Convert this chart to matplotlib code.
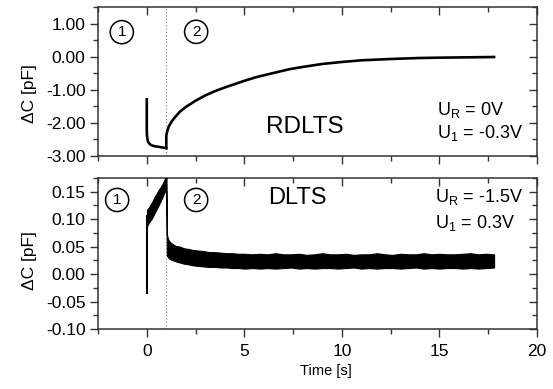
import matplotlib
matplotlib.use("Agg")
import matplotlib.pyplot as plt
from matplotlib.ticker import MultipleLocator, NullFormatter, FormatStrFormatter

plt.rcParams['font.family'] = ['Liberation Sans', 'DejaVu Sans']
plt.rcParams['mathtext.fontset'] = 'custom'
plt.rcParams['mathtext.rm'] = 'Liberation Sans'
plt.rcParams['mathtext.it'] = 'Liberation Sans:italic'

# ---------------- data ----------------
# RDLTS: phase 1 (filling pulse) and phase 2 (transient)
rd_t1 = [0.0, 0.0, 0.01, 0.03, 0.06, 0.12, 0.2, 0.3, 0.45, 0.6, 0.75, 0.9, 0.99]
rd_v1 = [-1.29, -2.20, -2.38, -2.48, -2.56, -2.62, -2.66, -2.69, -2.71, -2.72, -2.74, -2.75, -2.76]
rd_t2 = [1.0, 1.0, 1.05, 1.12, 1.25, 1.4, 1.7, 2.0, 2.5, 3.0, 3.5, 4.0, 4.5, 5.0,
         5.6, 6.3, 7.3, 8.0, 9.0, 10.0, 11.0, 12.5, 14.0, 15.0, 16.5, 17.8]
rd_v2 = [-2.76, -2.38, -2.25, -2.12, -1.98, -1.86, -1.66, -1.52, -1.33, -1.17, -1.04,
         -0.93, -0.83, -0.73, -0.62, -0.52, -0.38, -0.31, -0.22, -0.16, -0.11, -0.07,
         -0.04, -0.03, -0.02, -0.01]

# DLTS: noisy band, given as lower/upper envelopes
dl_spike_t = [0.0, 0.0]
dl_spike_v = [-0.035, 0.105]
dl_t1 = [0.0, 0.02, 0.05, 0.1, 0.2, 0.3, 0.4, 0.5, 0.6, 0.7, 0.8, 0.9, 0.99]
dl_up1 = [0.105, 0.117, 0.119, 0.121, 0.127, 0.133, 0.141, 0.146, 0.153, 0.158, 0.164, 0.171, 0.178]
dl_lo1 = [0.085, 0.088, 0.090, 0.093, 0.098, 0.104, 0.111, 0.118, 0.125, 0.132, 0.140, 0.148, 0.155]
dl_t2 = [0.99, 1.0, 1.03, 1.1, 1.2, 1.35, 1.5, 1.7, 1.9, 2.1, 2.35, 2.6, 2.9, 3.2, 3.5,
         3.8, 4.1, 4.4, 4.7, 5.0, 5.4, 5.8, 6.2, 6.6, 7.0, 7.4, 7.8, 8.2, 8.6, 9.0,
         9.4, 9.8, 10.2, 10.6, 11.0, 11.4, 11.8, 12.2, 12.6, 13.0, 13.4, 13.8, 14.2,
         14.6, 15.0, 15.4, 15.8, 16.2, 16.6, 17.0, 17.4, 17.8]
dl_up2 = [0.178, 0.175, 0.072, 0.063, 0.058, 0.054, 0.051, 0.050, 0.047, 0.046, 0.044,
          0.043, 0.042, 0.040, 0.040, 0.039, 0.038, 0.038, 0.037, 0.037, 0.036, 0.037,
          0.036, 0.038, 0.036, 0.036, 0.037, 0.035, 0.036, 0.038, 0.036, 0.036, 0.037,
          0.035, 0.036, 0.036, 0.038, 0.036, 0.035, 0.037, 0.036, 0.036, 0.038, 0.036,
          0.037, 0.036, 0.036, 0.037, 0.038, 0.036, 0.037, 0.036]
dl_lo2 = [0.155, 0.150, 0.034, 0.030, 0.027, 0.025, 0.023, 0.021, 0.019, 0.018, 0.016,
          0.015, 0.014, 0.013, 0.013, 0.012, 0.012, 0.011, 0.011, 0.010, 0.011, 0.010,
          0.011, 0.010, 0.011, 0.012, 0.010, 0.011, 0.010, 0.011, 0.011, 0.010, 0.011,
          0.012, 0.010, 0.011, 0.010, 0.011, 0.011, 0.010, 0.011, 0.012, 0.010, 0.011,
          0.010, 0.011, 0.011, 0.010, 0.011, 0.010, 0.011, 0.012]

pulse_end = 1.0
xlim = (-2.5, 20)
x_ticks = [0, 5, 10, 15, 20]
top_ylim = (-3.0, 1.5)
top_yticks = [1.0, 0.0, -1.0, -2.0, -3.0]
bot_ylim = (-0.1, 0.175)
bot_yticks = [0.15, 0.10, 0.05, 0.00, -0.05, -0.10]

# ---------------- figure ----------------
W, H = 553, 389
fig = plt.figure(figsize=(W / 100, H / 100), dpi=100)

def frame(l, t, r, b):
    return [l / W, 1 - b / H, (r - l) / W, (b - t) / H]

ax1 = fig.add_axes(frame(98, 7, 537, 156))
ax2 = fig.add_axes(frame(98, 178, 537, 329))

spine_col = '#333333'

def style(ax, ymaj, ymin):
    ax.set_xlim(*xlim)
    for s in ax.spines.values():
        s.set_color(spine_col)
        s.set_linewidth(1.1)
    ax.xaxis.set_major_locator(MultipleLocator(5))
    ax.xaxis.set_minor_locator(MultipleLocator(2.5))
    ax.yaxis.set_major_locator(MultipleLocator(ymaj))
    ax.yaxis.set_minor_locator(MultipleLocator(ymin))
    ax.tick_params(which='major', direction='out', length=6, width=1.0,
                   color=spine_col, labelsize=12.5, pad=3)
    ax.tick_params(which='minor', direction='out', length=3.5, width=1.0, color=spine_col)
    ax.tick_params(axis='x', which='major', pad=5)
    sx = ax.secondary_xaxis('top')
    sx.xaxis.set_major_locator(MultipleLocator(5))
    sx.xaxis.set_minor_locator(MultipleLocator(2.5))
    sx.xaxis.set_major_formatter(NullFormatter())
    sx.tick_params(which='major', direction='in', length=6, width=1.0, color=spine_col)
    sx.tick_params(which='minor', direction='in', length=3.5, width=1.0, color=spine_col)
    sx.spines['top'].set_visible(False)
    sy = ax.secondary_yaxis('right')
    sy.yaxis.set_major_locator(MultipleLocator(ymaj))
    sy.yaxis.set_minor_locator(MultipleLocator(ymin))
    sy.yaxis.set_major_formatter(NullFormatter())
    sy.tick_params(which='major', direction='in', length=6, width=1.0, color=spine_col)
    sy.tick_params(which='minor', direction='in', length=3.5, width=1.0, color=spine_col)
    sy.spines['right'].set_visible(False)

# ---- top: RDLTS ----
style(ax1, 1.0, 0.5)
ax1.set_ylim(*top_ylim)
ax1.set_yticks(top_yticks)
ax1.yaxis.set_major_formatter(FormatStrFormatter('%.2f'))
ax1.set_xticks(x_ticks)
ax1.xaxis.set_major_formatter(NullFormatter())
ax1.axvline(pulse_end, color='#777777', ls=(0, (1, 2)), lw=0.8, zorder=1)
ax1.plot(rd_t1, rd_v1, color='black', lw=1.9, solid_joinstyle='round', zorder=3)
ax1.plot(rd_t2, rd_v2, color='black', lw=1.9, solid_joinstyle='round', zorder=3)
ax1.set_ylabel('ΔC [pF]', fontsize=12.5)
ax1.yaxis.set_label_coords(-0.138, 0.42)

circ = dict(boxstyle='circle,pad=0.3', fc='white', ec='black', lw=1.1)
ax1.text(-1.28, 0.74, '1', fontsize=11, ha='center', va='center', bbox=circ)
ax1.text(2.53, 0.75, '2', fontsize=11, ha='center', va='center', bbox=circ)
ax1.text(8.1, -2.11, 'RDLTS', fontsize=17.5, ha='center', va='center')
ax1.text(14.85, -1.75, r'U$_\mathrm{R}$ = 0V', fontsize=13, ha='left', va='baseline')
ax1.text(14.85, -2.45, r'U$_\mathrm{1}$ = -0.3V', fontsize=13, ha='left', va='baseline')

# ---- bottom: DLTS ----
style(ax2, 0.05, 0.025)
ax2.set_ylim(*bot_ylim)
ax2.set_yticks(bot_yticks)
ax2.yaxis.set_major_formatter(FormatStrFormatter('%.2f'))
ax2.set_xticks(x_ticks)
ax2.axvline(pulse_end, color='#777777', ls=(0, (1, 2)), lw=0.8, zorder=1)
ax2.plot(dl_spike_t, dl_spike_v, color='black', lw=1.5, zorder=3)
ax2.fill_between(dl_t1, dl_lo1, dl_up1, color='black', lw=0.8, zorder=3)
ax2.fill_between(dl_t2, dl_lo2, dl_up2, color='black', lw=0.8, zorder=3)
ax2.set_ylabel('ΔC [pF]', fontsize=12.5)
ax2.yaxis.set_label_coords(-0.138, 0.45)
ax2.set_xlabel('Time [s]', fontsize=10.5)
ax2.xaxis.set_label_coords(0.52, -0.235)

ax2.text(-1.52, 0.135, '1', fontsize=11, ha='center', va='center', bbox=circ)
ax2.text(2.53, 0.135, '2', fontsize=11, ha='center', va='center', bbox=circ)
ax2.text(7.7, 0.139, 'DLTS', fontsize=17, ha='center', va='center')
ax2.text(14.78, 0.132, r'U$_\mathrm{R}$ = -1.5V', fontsize=13, ha='left', va='baseline')
ax2.text(14.78, 0.084, r'U$_\mathrm{1}$ = 0.3V', fontsize=13, ha='left', va='baseline')

fig.savefig('out.png', dpi=100)
